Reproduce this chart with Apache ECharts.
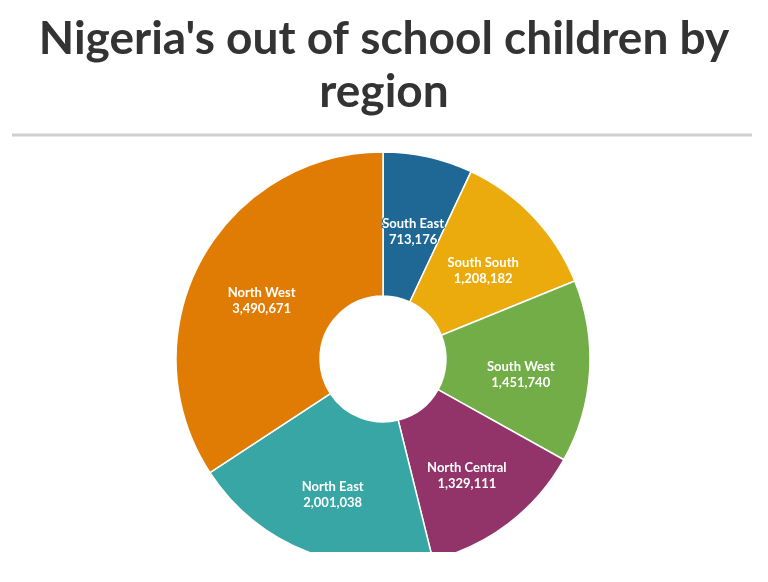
<!DOCTYPE html>
<html>
<head>
<meta charset="utf-8">
<script src="https://cdn.jsdelivr.net/npm/echarts@6/dist/echarts.min.js"></script>
<style>
  html, body { margin: 0; padding: 0; background: #fff; }
  #main { width: 768px; height: 552px; }
</style>
</head>
<body>
<div id="main"></div>
<script>
// regions, clockwise from the top
const regions = ['South East', 'South South', 'South West', 'North Central', 'North East', 'North West'];
const children = [713176, 1208182, 1451740, 1329111, 2001038, 3490671];
const colors = ['#1f6896', '#ebab0c', '#72ad47', '#923469', '#38a6a4', '#e07c04'];

let fmt = (v) => v.toLocaleString('en-US');

let chart = echarts.init(document.getElementById('main'));

let option = {
  backgroundColor: '#fff',
  animation: false,
  title: {
    text: "Nigeria's out of school children by\nregion",
    left: 'center',
    top: 8,
    textStyle: {
      fontFamily: 'Lato',
      fontWeight: 'bold',
      fontSize: 46,
      lineHeight: 53,
      color: '#333'
    }
  },
  graphic: [
    {
      type: 'line',
      shape: { x1: 12, y1: 135, x2: 752, y2: 135 },
      style: { stroke: '#d0d0d0', lineWidth: 3 }
    }
  ],
  series: [{
    type: 'pie',
    center: [383, 359],
    radius: [63, 207],
    startAngle: 90,
    clockwise: true,
    itemStyle: { borderColor: '#fff', borderWidth: 1.5 },
    label: {
      position: 'inside',
      offset: [0, 7],
      fontFamily: 'Lato',
      fontWeight: 'bold',
      fontSize: 13,
      lineHeight: 16,
      color: '#fff',
      textBorderWidth: 2,
      formatter: (p) => p.name + '\n' + fmt(p.value)
    },
    labelLine: { show: false },
    data: regions.map((name, i) => ({
      name,
      value: children[i],
      itemStyle: { color: colors[i] },
      label: { textBorderColor: colors[i] }
    }))
  }]
};

chart.setOption(option);
</script>
</body>
</html>
